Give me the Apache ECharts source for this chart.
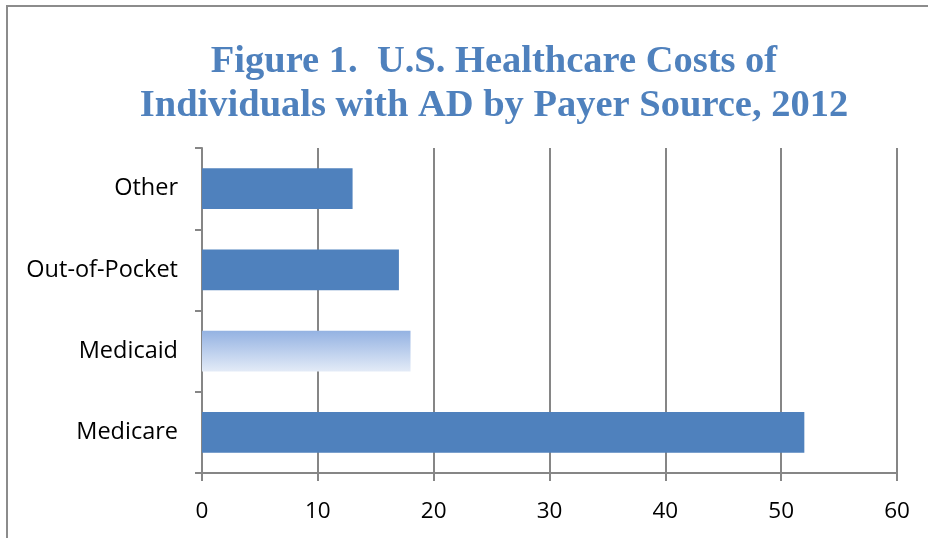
<!DOCTYPE html>
<html>
<head>
<meta charset="utf-8">
<script src="https://cdn.jsdelivr.net/npm/echarts@6/dist/echarts.min.js"></script>
<style>
	html, body {
		margin: 0;
		padding: 0;
		background: #fff;
	}
	#frame {
		position: absolute;
		left: 6px;
		top: 5px;
		width: 940px;
		height: 560px;
		border-left: 2px solid #8c8c8c;
		border-top: 2px solid #8c8c8c;
	}
	#chart {
		position: absolute;
		left: 0;
		top: 0;
		width: 928px;
		height: 538px;
	}
</style>
</head>
<body>
<div id="frame"></div>
<div id="chart"></div>
<script>
// payer sources, top to bottom as in the figure
const categories = ['Other', 'Out-of-Pocket', 'Medicaid', 'Medicare']
// costs, billions of dollars
const costs = [13, 17, 18, 52]
const xTicks = [0, 10, 20, 30, 40, 50, 60]

const barBlue = '#4F81BD'
const lineGray = '#868686'

// Medicaid bar has the pale gradient fill
const medicaidFill = new echarts.graphic.LinearGradient(0, 0, 0, 1, [
	{ offset: 0, color: '#94B2E2' },
	{ offset: 1, color: '#E3EBF7' },
])

const barData = costs.map((v, i) => ({
	value: v,
	itemStyle: { color: categories[i] === 'Medicaid' ? medicaidFill : barBlue },
}))

const myChart = echarts.init(document.getElementById('chart'))

const option = {
	animation: false,
	title: {
		text: 'Figure 1.  U.S. Healthcare Costs of\nIndividuals with AD by Payer Source, 2012',
		left: 489,
		top: 35,
		textAlign: 'center',
		textStyle: {
			fontFamily: 'Liberation Serif',
			fontWeight: 'bold',
			fontSize: 38.5,
			lineHeight: 44,
			color: '#4F81BD',
		},
	},
	grid: {
		left: 202,
		right: 31,
		top: 148,
		bottom: 65,
	},
	xAxis: {
		type: 'value',
		min: xTicks[0],
		max: xTicks[xTicks.length - 1],
		interval: 10,
		axisLine: { show: true, lineStyle: { color: lineGray, width: 2 } },
		axisTick: { show: true, length: 8, lineStyle: { color: lineGray, width: 2 } },
		splitLine: { show: true, lineStyle: { color: lineGray, width: 2 } },
		axisLabel: {
			margin: 27,
			fontFamily: 'Open Sans',
			fontSize: 22.5,
			color: '#000',
		},
	},
	yAxis: {
		type: 'category',
		inverse: true,
		data: categories,
		axisLine: { show: true, lineStyle: { color: lineGray, width: 2 } },
		axisTick: { show: true, length: 7, lineStyle: { color: lineGray, width: 2 } },
		axisLabel: {
			margin: 24,
			fontFamily: 'Open Sans',
			fontSize: 23.5,
			color: '#000',
		},
	},
	series: [
		{
			type: 'bar',
			data: barData,
			barWidth: '50%',
		},
	],
}

myChart.setOption(option)
</script>
</body>
</html>
